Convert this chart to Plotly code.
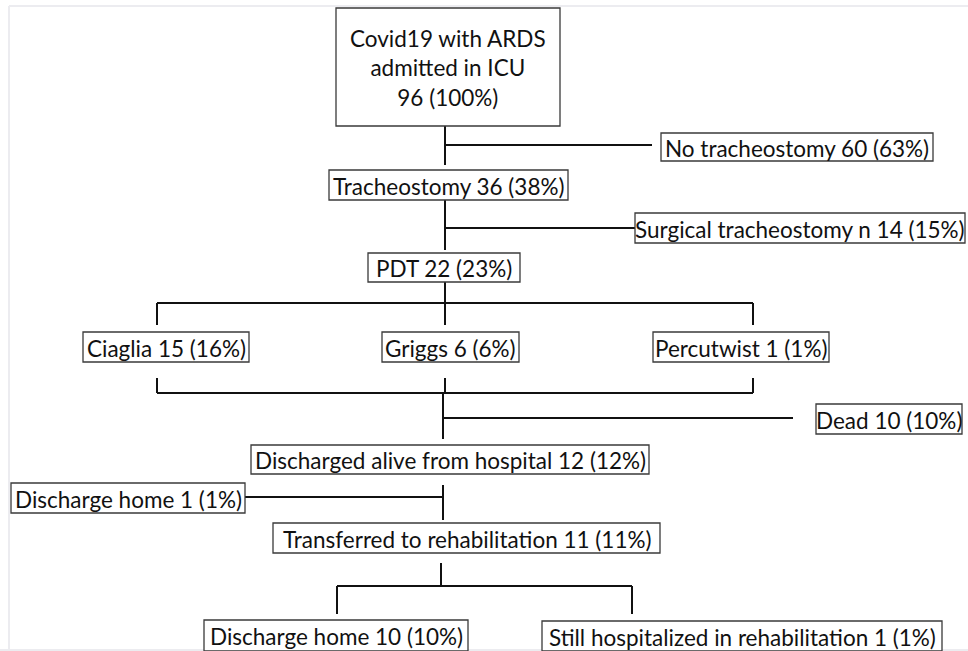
import plotly.graph_objects as go

W, H = 968, 651

node_names = [
    "Covid19 with ARDS<br>admitted in ICU<br>",
    "No tracheostomy ",
    "Tracheostomy ",
    "Surgical tracheostomy n ",
    "PDT ",
    "Ciaglia ",
    "Griggs ",
    "Percutwist ",
    "Dead ",
    "Discharged alive from hospital ",
    "Discharge home ",
    "Transferred to rehabilitation ",
    "Discharge home ",
    "Still hospitalized in rehabilitation ",
]
node_counts = [96, 60, 36, 14, 22, 15, 6, 1, 10, 12, 1, 11, 10, 1]
node_pcts = [100, 63, 38, 15, 23, 16, 6, 1, 10, 12, 1, 11, 10, 1]

# ---- layout (pixel space: x0, x1, y0, y1) ----
box_x0 = [336, 661, 329, 635, 368, 83, 382, 653, 816, 251, 11, 273, 204, 542]
box_x1 = [560, 933, 568, 965, 520, 249, 519, 829, 962, 649, 245, 660, 468, 942]
box_y0 = [8, 133, 170, 213, 253, 332, 332, 332, 404, 445, 483, 523, 620, 621]
box_y1 = [126, 161, 200, 243, 282, 362, 362, 362, 434, 474, 513, 553, 651, 651]

# connector segments: (x0, y0, x1, y1)
connectors = [
    (445, 126, 445, 165), (445, 145, 652, 145),
    (445, 200, 445, 250), (445, 228, 635, 228),
    (445, 282, 445, 325), (157, 303, 753, 303),
    (157, 303, 157, 325), (753, 303, 753, 325),
    (157, 378, 157, 393), (445, 378, 445, 393), (753, 378, 753, 393),
    (157, 393, 753, 393),
    (443, 393, 443, 439), (443, 418, 793, 418),
    (443, 485, 443, 520), (245, 497, 443, 497),
    (441, 563, 441, 586), (337, 586, 632, 586),
    (337, 586, 337, 614), (632, 586, 632, 614),
]

fig = go.Figure()
fig.add_trace(go.Scatter(x=[0, W], y=[0, H], mode="markers",
                         marker=dict(opacity=0), hoverinfo="skip", showlegend=False))

shapes = []
# faint page border
shapes.append(dict(type="line", x0=9, y0=6, x1=W, y1=6, line=dict(color="#ececf0", width=2)))
shapes.append(dict(type="line", x0=9, y0=6, x1=9, y1=H, line=dict(color="#ececf0", width=2)))
shapes.append(dict(type="line", x0=0, y0=650, x1=W, y1=650, line=dict(color="#ececf0", width=2)))

for (x0, y0, x1, y1) in connectors:
    shapes.append(dict(type="line", x0=x0, y0=y0, x1=x1, y1=y1,
                       line=dict(color="#111111", width=2)))

annotations = []
for name, n, p, x0, x1, y0, y1 in zip(node_names, node_counts, node_pcts,
                                       box_x0, box_x1, box_y0, box_y1):
    shapes.append(dict(type="rect", x0=x0, x1=x1, y0=y0, y1=y1,
                       line=dict(color="#3a3a3a", width=1.3), fillcolor="white"))
    annotations.append(dict(x=(x0 + x1) / 2, y=(y0 + y1) / 2 + 1, xref="x", yref="y",
                            text=f"{name}{n} ({p}%)", showarrow=False,
                            xanchor="center", yanchor="middle",
                            font=dict(family="Lato", size=22.5, color="#111111"),
                            align="center"))

fig.update_layout(
    width=W, height=H, margin=dict(l=0, r=0, t=0, b=0),
    paper_bgcolor="white", plot_bgcolor="white",
    xaxis=dict(range=[0, W], visible=False, fixedrange=True),
    yaxis=dict(range=[H, 0], visible=False, fixedrange=True),
    shapes=shapes, annotations=annotations, showlegend=False,
)

fig.write_html("out.html", config={"displayModeBar": False},
               post_script="document.body.style.margin='0';")
